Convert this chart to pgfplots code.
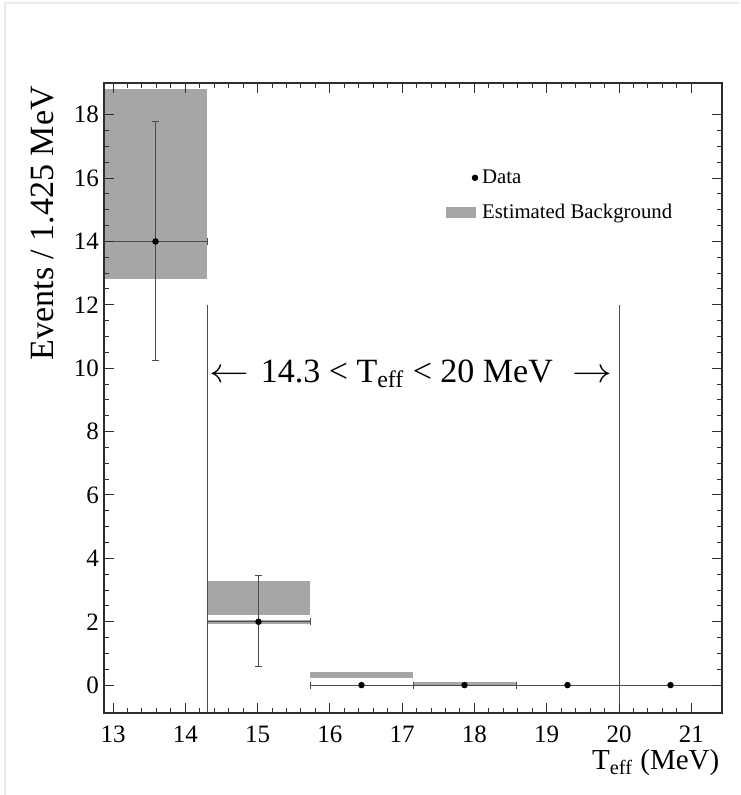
\documentclass[border=0pt]{standalone}
\usepackage{pgfplots}
\pgfplotsset{compat=1.18}
\usepackage{fontspec}
\setmainfont{Liberation Serif}
\definecolor{bg}{RGB}{166,166,166}
\definecolor{axc}{RGB}{45,45,45}
\definecolor{errc}{RGB}{75,75,75}
\begin{document}
\begin{tikzpicture}
\useasboundingbox (-52pt,-41pt) rectangle (318pt,356.5pt);
\fill[white] (-52pt,-41pt) rectangle (318pt,356.5pt);
\draw[black!8, line width=0.6pt] (-49.5pt,-41pt) -- (-49.5pt,355pt) -- (318pt,355pt);
\begin{axis}[
  at={(0,0)}, anchor=south west,
  scale only axis, width=309pt, height=315pt,
  xmin=12.875, xmax=21.425, ymin=-0.88, ymax=19,
  xtick={13,14,...,21}, ytick={0,2,...,18},
  xticklabels={13,14,15,16,17,18,19,20,21},
  yticklabels={0,2,4,6,8,10,12,14,16,18},
  minor x tick num=4, minor y tick num=3,
  tick align=inside, major tick length=5pt, minor tick length=2.5pt,
  axis on top,
  axis line style={axc, line width=0.7pt},
  every tick/.style={axc, line width=0.5pt},
  /pgf/number format/assume math mode=true,
  tick label style={font=\rmfamily\fontsize{12.5}{14}\selectfont},
  x tick label style={yshift=-3pt},
  y tick label style={xshift=1pt},
  ylabel={Events / 1.425 MeV},
  ylabel style={font=\fontsize{17}{19}\selectfont, at={(axis description cs:-0.1,1.006)}, anchor=east},
  xlabel={T\textsubscript{eff} (MeV)},
  xlabel style={font=\fontsize{14.5}{16}\selectfont, at={(axis description cs:1.007,-0.09)}, anchor=base east},
  legend style={at={(axis description cs:0.543,0.876)}, anchor=north west, draw=none, fill=none,
    font=\fontsize{10.4}{12}\selectfont, row sep=5pt,
    /tikz/every even column/.append style={column sep=4pt}},
  legend cell align=left,
]
% estimated background boxes
\addplot[fill=bg, draw=none, forget plot] coordinates {(12.875,12.8) (14.3,12.8) (14.3,18.8) (12.875,18.8)} -- cycle;
\addplot[fill=bg, draw=none, forget plot] coordinates {(14.3,2.2) (15.725,2.2) (15.725,3.3) (14.3,3.3)} -- cycle;
\addplot[fill=bg, draw=none, forget plot] coordinates {(14.3,1.93) (15.725,1.93) (15.725,2.07) (14.3,2.07)} -- cycle;
\addplot[fill=bg, draw=none, forget plot] coordinates {(15.725,0.24) (17.15,0.24) (17.15,0.42) (15.725,0.42)} -- cycle;
\addplot[fill=bg, draw=none, forget plot] coordinates {(17.15,-0.03) (18.575,-0.03) (18.575,0.09) (17.15,0.09)} -- cycle;
% signal window lines
\addplot[errc, line width=0.5pt, forget plot] coordinates {(14.3,-0.88) (14.3,12)};
\addplot[errc, line width=0.5pt, forget plot] coordinates {(20,-0.88) (20,12)};
% data
\addplot[only marks, mark=*, mark size=1.4pt, black, forget plot,
  error bars/.cd, x dir=both, x explicit, y dir=both, y explicit,
  error bar style={errc, line width=0.5pt},
  error mark options={rotate=90, errc, mark size=1.7pt, line width=0.5pt}]
coordinates {
(13.5875,14) += (0.7125,3.8) -= (0.7125,3.75)
(15.0125,2) += (0.7125,1.45) -= (0.7125,1.42)
(16.4375,0) +- (0.7125,0)
(17.8625,0) +- (0.7125,0)
(19.2875,0) +- (0.7125,0)
(20.7125,0) +- (0.7125,0)
};
\addlegendimage{legend image code/.code={\path[draw=none,fill=none] (0pt,-2.75pt) rectangle (15pt,2.75pt); \fill[black] (14.5pt,0pt) circle (1.4pt);}}
\addlegendentry{Data}
\addlegendimage{legend image code/.code={\fill[bg,draw=none] (0pt,-2.75pt) rectangle (15pt,2.75pt);}}
\addlegendentry{Estimated Background}
\node[font=\fontsize{17}{19}\selectfont, anchor=base] at (axis cs:17.12,9.55)
  {\scalebox{1.15}[1]{$\leftarrow$}\hspace{6pt}14.3 < T\textsubscript{eff} < 20 MeV\hspace{10pt}\scalebox{1.15}[1]{$\rightarrow$}};
\end{axis}
\end{tikzpicture}
\end{document}
